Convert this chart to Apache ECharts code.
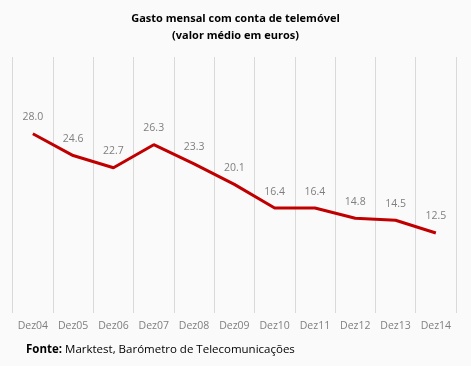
<!DOCTYPE html>
<html><head><meta charset="utf-8">
<script src="https://cdn.jsdelivr.net/npm/echarts@6/dist/echarts.min.js"></script>
<style>html,body{margin:0;padding:0;background:#fafafa}#c{width:471px;height:366px}</style>
</head><body><div id="c"></div>
<script>
const categories = ['Dez04','Dez05','Dez06','Dez07','Dez08','Dez09','Dez10','Dez11','Dez12','Dez13','Dez14'];
const values = [28.0, 24.6, 22.7, 26.3, 23.3, 20.1, 16.4, 16.4, 14.8, 14.5, 12.5];
const titleText = 'Gasto mensal com conta de telemóvel\n(valor médio em euros)';
const sourceText = 'Marktest, Barómetro de Telecomunicações';

const chart = echarts.init(document.getElementById('c'), null, {renderer:'canvas'});
chart.setOption({
  backgroundColor: '#fafafa',
  animation: false,
  title: {
    text: titleText, left: 'center', top: 5,
    textStyle: {fontFamily: 'Open Sans', fontSize: 11, fontWeight: 'bold', color: '#000', lineHeight: 17}
  },
  graphic: [{
    type: 'text', left: 26, top: 344,
    style: {
      text: '{b|Fonte:} ' + sourceText,
      rich: {b: {fontWeight: 'bold', fontFamily: 'Open Sans', fontSize: 11.5, fill: '#000'}},
      fontFamily: 'Open Sans', fontSize: 11.5, fill: '#000'
    }
  }],
  grid: {left: 12.7, right: 15, top: 57, bottom: 53},
  xAxis: {
    type: 'category', data: categories, boundaryGap: true,
    axisLine: {show: false}, axisTick: {show: false},
    splitLine: {show: true, lineStyle: {color: '#d9d9d9', width: 1}},
    axisLabel: {color: '#7f7f7f', fontFamily: 'Open Sans', fontSize: 10.5, margin: 8}
  },
  yAxis: {type: 'value', min: 0, max: 40, show: false, splitLine: {show: false}},
  series: [{
    type: 'line', data: values, symbol: 'circle', symbolSize: 2, showSymbol: true,
    itemStyle: {color: 'rgba(192,0,0,0)', borderWidth: 0},
    lineStyle: {color: '#c00000', width: 3},
    label: {show: true, position: 'top', distance: 10, formatter: p => p.value.toFixed(1),
      color: '#7f7f7f', fontFamily: 'Open Sans', fontSize: 10.5}
  }]
});
</script></body></html>
